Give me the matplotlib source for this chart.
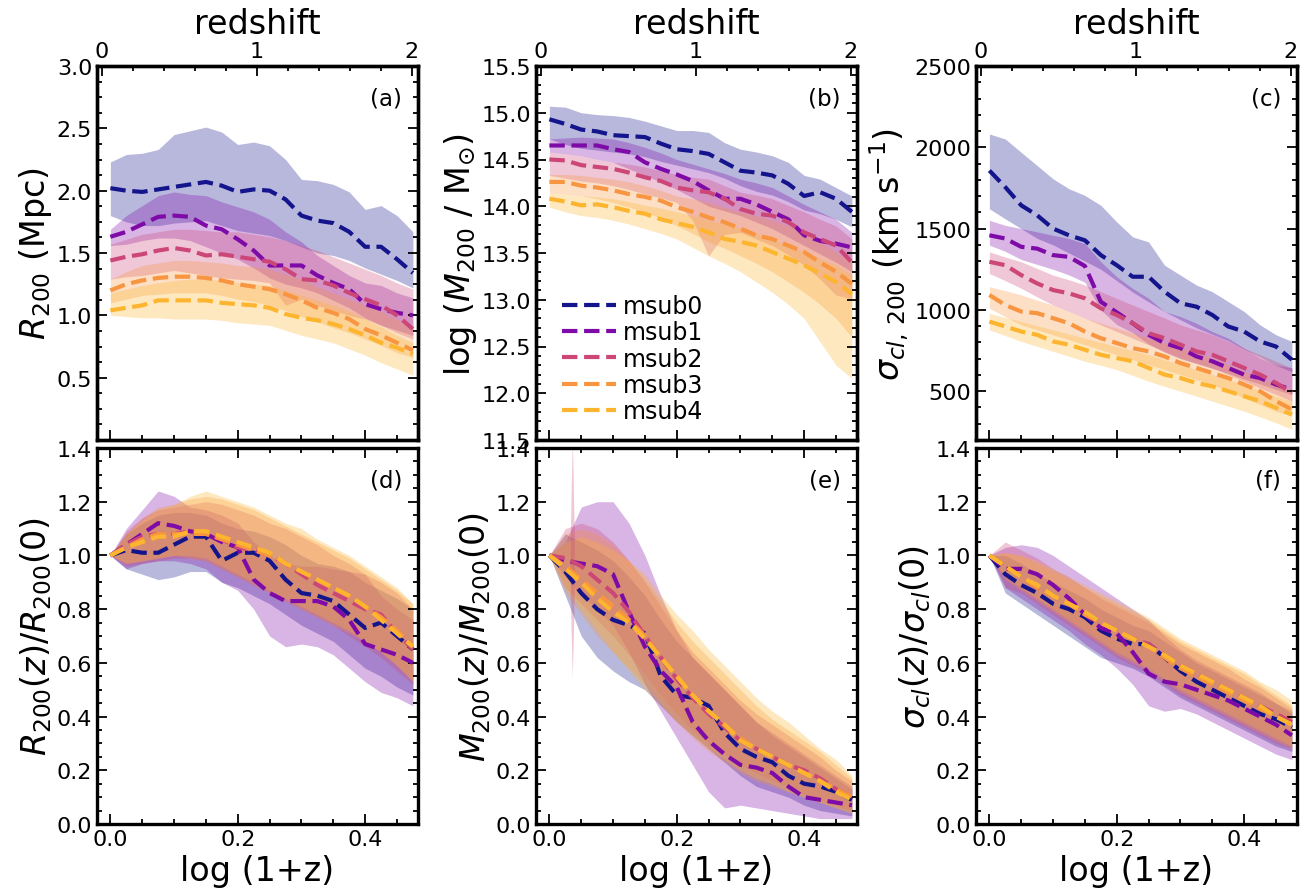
import matplotlib
matplotlib.use("Agg")
import matplotlib.pyplot as plt
from matplotlib.ticker import MultipleLocator, FixedLocator

# ---------------- data ----------------
logz1 = [0.0, 0.025, 0.05, 0.075, 0.1, 0.125, 0.15, 0.175, 0.2, 0.225,
         0.25, 0.275, 0.3, 0.325, 0.35, 0.375, 0.4, 0.425, 0.45, 0.475]
labels = ["msub0", "msub1", "msub2", "msub3", "msub4"]
colors = ["#14148c", "#7e0aa8", "#cc4778", "#f89540", "#fdb42f"]

# (a) R200 [Mpc]
R200_med = [
    [2.02, 2.00, 1.99, 2.01, 2.03, 2.05, 2.07, 2.04, 1.99, 2.01, 2.00, 1.93, 1.80, 1.76, 1.74, 1.67, 1.55, 1.55, 1.45, 1.34],
    [1.63, 1.67, 1.73, 1.79, 1.80, 1.79, 1.72, 1.69, 1.61, 1.52, 1.40, 1.40, 1.40, 1.32, 1.26, 1.21, 1.09, 1.05, 1.02, 1.00],
    [1.44, 1.47, 1.49, 1.52, 1.54, 1.52, 1.48, 1.49, 1.47, 1.45, 1.43, 1.37, 1.29, 1.28, 1.24, 1.18, 1.13, 1.08, 1.00, 0.89],
    [1.20, 1.25, 1.28, 1.30, 1.31, 1.31, 1.30, 1.28, 1.25, 1.23, 1.21, 1.17, 1.12, 1.06, 1.02, 0.97, 0.89, 0.84, 0.78, 0.72],
    [1.04, 1.06, 1.08, 1.12, 1.12, 1.12, 1.12, 1.10, 1.09, 1.08, 1.06, 1.01, 0.98, 0.96, 0.93, 0.89, 0.84, 0.78, 0.74, 0.69],
]
R200_hi = [
    [2.23, 2.29, 2.30, 2.33, 2.45, 2.48, 2.51, 2.47, 2.37, 2.39, 2.36, 2.25, 2.09, 2.08, 2.05, 1.99, 1.85, 1.88, 1.80, 1.67],
    [1.69, 1.80, 1.88, 1.96, 1.99, 1.97, 1.96, 1.91, 1.87, 1.83, 1.77, 1.67, 1.59, 1.48, 1.40, 1.32, 1.26, 1.24, 1.18, 1.14],
    [1.57, 1.61, 1.65, 1.67, 1.69, 1.69, 1.68, 1.67, 1.67, 1.65, 1.63, 1.60, 1.56, 1.52, 1.47, 1.42, 1.37, 1.32, 1.26, 1.21],
    [1.29, 1.35, 1.40, 1.42, 1.44, 1.44, 1.43, 1.42, 1.40, 1.39, 1.37, 1.33, 1.29, 1.23, 1.18, 1.13, 1.08, 1.03, 0.97, 0.89],
    [1.18, 1.21, 1.24, 1.26, 1.28, 1.29, 1.29, 1.28, 1.26, 1.25, 1.24, 1.20, 1.16, 1.12, 1.08, 1.03, 0.97, 0.91, 0.84, 0.78],
]
R200_lo = [
    [1.80, 1.75, 1.72, 1.72, 1.74, 1.75, 1.76, 1.72, 1.68, 1.66, 1.64, 1.60, 1.55, 1.50, 1.48, 1.44, 1.38, 1.33, 1.28, 1.22],
    [1.56, 1.57, 1.60, 1.62, 1.62, 1.60, 1.55, 1.50, 1.45, 1.38, 1.30, 1.25, 1.22, 1.18, 1.12, 1.06, 0.98, 0.92, 0.88, 0.84],
    [1.29, 1.31, 1.32, 1.34, 1.36, 1.34, 1.32, 1.30, 1.29, 1.28, 1.26, 1.08, 1.13, 1.08, 1.04, 1.00, 0.97, 0.92, 0.86, 0.81],
    [1.10, 1.13, 1.16, 1.17, 1.18, 1.18, 1.18, 1.16, 1.13, 1.11, 1.08, 1.04, 0.99, 0.95, 0.90, 0.86, 0.81, 0.76, 0.70, 0.66],
    [1.00, 0.99, 0.98, 0.98, 0.97, 0.97, 0.97, 0.96, 0.94, 0.93, 0.92, 0.88, 0.84, 0.81, 0.78, 0.73, 0.68, 0.62, 0.57, 0.52],
]

# (b) log M200
M200_med = [
    [14.93, 14.88, 14.82, 14.80, 14.76, 14.75, 14.74, 14.67, 14.61, 14.59, 14.56, 14.47, 14.38, 14.36, 14.33, 14.24, 14.11, 14.15, 14.08, 13.94],
    [14.65, 14.65, 14.65, 14.65, 14.61, 14.58, 14.47, 14.40, 14.34, 14.27, 14.17, 14.08, 14.08, 14.02, 13.94, 13.86, 13.69, 13.63, 13.60, 13.56],
    [14.50, 14.49, 14.44, 14.42, 14.40, 14.36, 14.31, 14.27, 14.20, 14.17, 14.15, 14.08, 13.97, 13.92, 13.90, 13.83, 13.72, 13.65, 13.58, 13.40],
    [14.26, 14.26, 14.22, 14.20, 14.17, 14.13, 14.10, 14.06, 13.99, 13.94, 13.88, 13.83, 13.76, 13.69, 13.65, 13.58, 13.51, 13.40, 13.30, 13.17],
    [14.08, 14.05, 14.01, 14.02, 13.99, 13.95, 13.92, 13.86, 13.82, 13.78, 13.72, 13.65, 13.62, 13.58, 13.51, 13.44, 13.37, 13.28, 13.19, 13.06],
]
M200_hi = [
    [15.07, 15.06, 15.00, 14.98, 14.97, 14.95, 14.91, 14.86, 14.81, 14.81, 14.79, 14.68, 14.61, 14.58, 14.54, 14.47, 14.33, 14.29, 14.20, 14.11],
    [14.72, 14.73, 14.74, 14.73, 14.72, 14.68, 14.63, 14.57, 14.50, 14.45, 14.40, 14.35, 14.29, 14.25, 14.20, 14.11, 14.02, 13.94, 13.86, 13.72],
    [14.58, 14.56, 14.54, 14.50, 14.47, 14.45, 14.42, 14.38, 14.34, 14.31, 14.29, 14.22, 14.15, 14.12, 14.08, 14.01, 13.94, 13.86, 13.79, 13.65],
    [14.34, 14.34, 14.33, 14.31, 14.29, 14.26, 14.22, 14.17, 14.11, 14.08, 14.04, 13.99, 13.94, 13.90, 13.85, 13.79, 13.72, 13.62, 13.51, 13.40],
    [14.15, 14.13, 14.11, 14.10, 14.08, 14.05, 14.01, 13.98, 13.94, 13.90, 13.85, 13.81, 13.76, 13.71, 13.65, 13.58, 13.51, 13.44, 13.37, 13.26],
]
M200_lo = [
    [14.72, 14.66, 14.62, 14.60, 14.58, 14.56, 14.53, 14.48, 14.44, 14.40, 14.36, 14.30, 14.22, 14.16, 14.12, 14.05, 13.96, 13.92, 13.86, 13.78],
    [14.58, 14.56, 14.54, 14.50, 14.47, 14.40, 14.33, 14.26, 14.18, 14.09, 14.00, 13.95, 13.90, 13.83, 13.76, 13.67, 13.58, 13.49, 13.40, 13.30],
    [14.33, 14.30, 14.27, 14.25, 14.22, 14.18, 14.13, 14.09, 14.04, 13.85, 13.47, 13.70, 13.72, 13.65, 13.58, 13.48, 13.37, 13.22, 13.05, 13.01],
    [14.15, 14.13, 14.11, 14.08, 14.04, 13.99, 13.94, 13.87, 13.79, 13.71, 13.62, 13.55, 13.47, 13.39, 13.30, 13.19, 13.08, 12.95, 12.80, 12.60],
    [13.99, 13.94, 13.90, 13.88, 13.85, 13.81, 13.76, 13.71, 13.65, 13.56, 13.47, 13.39, 13.30, 13.19, 13.08, 12.95, 12.80, 12.55, 12.30, 12.16],
]

# (c) sigma_cl,200 [km/s]
sig_med = [
    [1857, 1755, 1643, 1582, 1500, 1459, 1428, 1337, 1275, 1204, 1204, 1112, 1041, 1020, 969, 898, 867, 806, 775, 694],
    [1459, 1439, 1388, 1377, 1337, 1326, 1270, 1050, 985, 918, 847, 796, 765, 714, 684, 643, 602, 581, 541, 510],
    [1296, 1275, 1214, 1163, 1122, 1102, 1071, 1010, 969, 918, 857, 826, 786, 745, 724, 684, 643, 602, 551, 490],
    [1092, 1030, 990, 980, 949, 918, 867, 826, 796, 765, 745, 714, 673, 643, 612, 581, 541, 500, 439, 388],
    [928, 898, 867, 847, 806, 786, 755, 724, 704, 684, 643, 602, 581, 551, 530, 500, 469, 439, 398, 357],
]
sig_hi = [
    [2082, 2051, 1969, 1888, 1806, 1745, 1704, 1643, 1541, 1449, 1418, 1275, 1214, 1153, 1112, 1051, 990, 908, 847, 806],
    [1551, 1520, 1500, 1480, 1459, 1439, 1408, 1296, 1204, 1132, 1071, 990, 959, 918, 867, 826, 765, 704, 663, 643],
    [1357, 1325, 1296, 1255, 1214, 1185, 1153, 1112, 1071, 1030, 990, 950, 908, 878, 847, 806, 765, 725, 684, 643],
    [1143, 1118, 1092, 1060, 1030, 990, 949, 918, 888, 857, 826, 796, 765, 735, 704, 663, 622, 582, 541, 500],
    [979, 954, 928, 903, 877, 852, 826, 800, 775, 750, 724, 694, 663, 633, 602, 571, 541, 505, 469, 439],
]
sig_lo = [
    [1622, 1560, 1500, 1440, 1400, 1350, 1300, 1250, 1180, 1110, 1050, 990, 940, 890, 850, 810, 760, 710, 660, 620],
    [1398, 1360, 1310, 1280, 1250, 1215, 1170, 1000, 910, 860, 790, 740, 700, 670, 640, 610, 575, 545, 510, 480],
    [1224, 1180, 1133, 1080, 1030, 990, 949, 908, 867, 826, 786, 745, 704, 673, 643, 602, 561, 520, 480, 439],
    [1010, 959, 908, 878, 847, 817, 786, 755, 724, 694, 663, 633, 602, 571, 541, 500, 459, 418, 377, 347],
    [877, 842, 806, 776, 745, 715, 684, 659, 633, 597, 561, 530, 500, 470, 439, 408, 377, 342, 306, 265],
]

# (d) R200(z)/R200(0)
Rrat_med = [
    [1.00, 1.02, 1.01, 1.01, 1.04, 1.07, 1.07, 0.98, 1.01, 1.01, 0.98, 0.91, 0.86, 0.85, 0.83, 0.78, 0.73, 0.75, 0.70, 0.65],
    [1.00, 1.04, 1.08, 1.12, 1.11, 1.09, 1.08, 1.05, 1.03, 0.91, 0.86, 0.83, 0.83, 0.83, 0.81, 0.76, 0.67, 0.65, 0.63, 0.60],
    [1.00, 1.04, 1.07, 1.08, 1.08, 1.09, 1.08, 1.06, 1.03, 1.02, 1.00, 0.97, 0.93, 0.89, 0.86, 0.83, 0.80, 0.78, 0.71, 0.65],
    [1.00, 1.03, 1.06, 1.08, 1.08, 1.08, 1.08, 1.06, 1.04, 1.02, 1.00, 0.97, 0.94, 0.91, 0.88, 0.85, 0.81, 0.77, 0.72, 0.66],
    [1.00, 1.03, 1.05, 1.07, 1.07, 1.09, 1.09, 1.07, 1.05, 1.03, 1.01, 0.97, 0.94, 0.91, 0.88, 0.85, 0.81, 0.76, 0.71, 0.66],
]
Rrat_hi = [
    [1.00, 1.08, 1.12, 1.15, 1.16, 1.16, 1.15, 1.12, 1.10, 1.09, 1.07, 1.04, 1.00, 0.97, 0.96, 0.94, 0.90, 0.87, 0.84, 0.80],
    [1.00, 1.10, 1.17, 1.24, 1.22, 1.18, 1.17, 1.15, 1.12, 1.05, 1.00, 0.97, 0.96, 0.96, 0.95, 0.94, 0.93, 0.85, 0.80, 0.76],
    [1.00, 1.09, 1.14, 1.17, 1.18, 1.19, 1.20, 1.19, 1.17, 1.15, 1.12, 1.10, 1.07, 1.04, 1.00, 0.97, 0.93, 0.90, 0.86, 0.80],
    [1.00, 1.08, 1.14, 1.18, 1.19, 1.21, 1.22, 1.21, 1.19, 1.17, 1.14, 1.11, 1.08, 1.05, 1.02, 0.99, 0.95, 0.91, 0.87, 0.82],
    [1.00, 1.08, 1.13, 1.17, 1.19, 1.22, 1.24, 1.22, 1.20, 1.18, 1.15, 1.12, 1.10, 1.06, 1.03, 1.00, 0.96, 0.92, 0.88, 0.82],
]
Rrat_lo = [
    [1.00, 0.95, 0.93, 0.91, 0.92, 0.94, 0.94, 0.90, 0.88, 0.85, 0.82, 0.78, 0.74, 0.71, 0.68, 0.63, 0.58, 0.55, 0.51, 0.48],
    [1.00, 0.95, 0.97, 0.98, 0.98, 0.97, 0.95, 0.90, 0.87, 0.80, 0.70, 0.66, 0.67, 0.66, 0.63, 0.58, 0.53, 0.49, 0.47, 0.44],
    [1.00, 0.96, 0.97, 0.98, 0.99, 0.99, 0.98, 0.95, 0.92, 0.89, 0.86, 0.83, 0.80, 0.77, 0.74, 0.70, 0.66, 0.62, 0.57, 0.52],
    [1.00, 0.97, 0.98, 0.99, 1.00, 0.99, 0.98, 0.95, 0.92, 0.89, 0.86, 0.83, 0.80, 0.77, 0.74, 0.71, 0.68, 0.64, 0.59, 0.53],
    [1.00, 0.97, 0.98, 0.99, 1.00, 1.00, 0.99, 0.96, 0.93, 0.90, 0.87, 0.84, 0.81, 0.78, 0.75, 0.72, 0.68, 0.64, 0.59, 0.53],
]

# (e) M200(z)/M200(0)
Mrat_med = [
    [1.00, 0.94, 0.86, 0.80, 0.76, 0.74, 0.71, 0.55, 0.48, 0.47, 0.44, 0.34, 0.28, 0.25, 0.23, 0.18, 0.15, 0.14, 0.12, 0.09],
    [1.00, 0.98, 0.97, 0.96, 0.93, 0.79, 0.66, 0.57, 0.51, 0.38, 0.31, 0.26, 0.22, 0.21, 0.19, 0.14, 0.10, 0.09, 0.08, 0.07],
    [1.00, 0.99, 0.96, 0.91, 0.86, 0.79, 0.70, 0.62, 0.54, 0.47, 0.41, 0.36, 0.31, 0.28, 0.25, 0.22, 0.20, 0.17, 0.13, 0.10],
    [1.00, 0.96, 0.91, 0.86, 0.81, 0.76, 0.70, 0.62, 0.55, 0.48, 0.42, 0.37, 0.32, 0.28, 0.25, 0.22, 0.19, 0.16, 0.13, 0.10],
    [1.00, 0.95, 0.90, 0.84, 0.79, 0.75, 0.69, 0.62, 0.55, 0.48, 0.42, 0.37, 0.31, 0.28, 0.25, 0.22, 0.19, 0.16, 0.12, 0.09],
]
Mrat_hi = [
    [1.00, 1.08, 1.05, 1.02, 0.98, 0.92, 0.85, 0.76, 0.68, 0.62, 0.56, 0.50, 0.44, 0.38, 0.33, 0.29, 0.25, 0.21, 0.17, 0.13],
    [1.00, 1.05, 1.18, 1.20, 1.20, 1.12, 1.00, 0.85, 0.72, 0.62, 0.56, 0.50, 0.44, 0.38, 0.34, 0.30, 0.26, 0.22, 0.18, 0.14],
    [1.00, 1.10, 1.12, 1.10, 1.05, 0.98, 0.90, 0.81, 0.72, 0.64, 0.58, 0.52, 0.46, 0.41, 0.37, 0.33, 0.29, 0.25, 0.20, 0.16],
    [1.00, 1.08, 1.10, 1.08, 1.04, 0.98, 0.91, 0.83, 0.75, 0.68, 0.62, 0.56, 0.50, 0.44, 0.39, 0.35, 0.31, 0.27, 0.22, 0.17],
    [1.00, 1.05, 1.07, 1.05, 1.02, 0.98, 0.93, 0.85, 0.78, 0.72, 0.65, 0.59, 0.53, 0.47, 0.42, 0.38, 0.33, 0.28, 0.24, 0.18],
]
Mrat_lo = [
    [1.00, 0.85, 0.70, 0.62, 0.57, 0.53, 0.50, 0.44, 0.38, 0.33, 0.28, 0.23, 0.18, 0.14, 0.12, 0.10, 0.07, 0.05, 0.04, 0.03],
    [1.00, 0.92, 0.85, 0.80, 0.74, 0.64, 0.52, 0.42, 0.32, 0.22, 0.12, 0.06, 0.07, 0.06, 0.05, 0.04, 0.03, 0.02, 0.02, 0.02],
    [1.00, 0.88, 0.82, 0.76, 0.70, 0.63, 0.56, 0.48, 0.41, 0.35, 0.30, 0.26, 0.22, 0.19, 0.16, 0.14, 0.11, 0.09, 0.07, 0.05],
    [1.00, 0.86, 0.78, 0.70, 0.64, 0.58, 0.52, 0.45, 0.38, 0.32, 0.27, 0.23, 0.19, 0.16, 0.14, 0.12, 0.10, 0.08, 0.06, 0.04],
    [1.00, 0.88, 0.80, 0.72, 0.64, 0.57, 0.50, 0.44, 0.38, 0.33, 0.28, 0.24, 0.20, 0.17, 0.15, 0.12, 0.10, 0.08, 0.06, 0.04],
]
# narrow outlier spike of the msub2 band in panel (e)
Mrat_spike_x = [0.033, 0.036, 0.039]
Mrat_spike_top = [1.09, 1.45, 1.09]
Mrat_spike_bot = [0.84, 0.54, 0.84]

# (f) sigma(z)/sigma(0)
Srat_med = [
    [1.00, 0.93, 0.89, 0.86, 0.82, 0.80, 0.77, 0.72, 0.69, 0.67, 0.67, 0.62, 0.57, 0.53, 0.50, 0.47, 0.44, 0.41, 0.39, 0.36],
    [1.00, 0.95, 0.95, 0.93, 0.89, 0.84, 0.78, 0.73, 0.71, 0.64, 0.56, 0.53, 0.52, 0.50, 0.48, 0.46, 0.43, 0.40, 0.37, 0.33],
    [1.00, 0.96, 0.92, 0.88, 0.85, 0.82, 0.78, 0.75, 0.72, 0.69, 0.67, 0.63, 0.59, 0.56, 0.53, 0.50, 0.47, 0.44, 0.41, 0.38],
    [1.00, 0.96, 0.92, 0.88, 0.85, 0.82, 0.78, 0.75, 0.72, 0.69, 0.66, 0.62, 0.58, 0.55, 0.52, 0.49, 0.46, 0.43, 0.40, 0.37],
    [1.00, 0.96, 0.92, 0.89, 0.85, 0.82, 0.79, 0.75, 0.72, 0.69, 0.66, 0.63, 0.59, 0.56, 0.53, 0.50, 0.47, 0.44, 0.40, 0.37],
]
Srat_hi = [
    [1.00, 1.00, 0.97, 0.93, 0.90, 0.87, 0.84, 0.80, 0.77, 0.74, 0.72, 0.68, 0.64, 0.60, 0.57, 0.54, 0.51, 0.48, 0.45, 0.42],
    [1.00, 1.03, 1.04, 1.03, 1.00, 0.96, 0.92, 0.88, 0.84, 0.80, 0.76, 0.70, 0.65, 0.61, 0.58, 0.55, 0.52, 0.49, 0.45, 0.41],
    [1.00, 1.05, 1.02, 0.99, 0.95, 0.92, 0.88, 0.84, 0.81, 0.78, 0.75, 0.71, 0.67, 0.64, 0.61, 0.58, 0.54, 0.51, 0.47, 0.43],
    [1.00, 1.01, 1.00, 0.97, 0.94, 0.91, 0.88, 0.85, 0.82, 0.79, 0.76, 0.72, 0.68, 0.65, 0.62, 0.59, 0.56, 0.52, 0.48, 0.44],
    [1.00, 1.01, 1.00, 0.98, 0.95, 0.92, 0.89, 0.86, 0.83, 0.80, 0.77, 0.73, 0.69, 0.66, 0.63, 0.60, 0.57, 0.53, 0.50, 0.46],
]
Srat_lo = [
    [1.00, 0.86, 0.82, 0.78, 0.74, 0.70, 0.66, 0.62, 0.60, 0.58, 0.55, 0.51, 0.47, 0.44, 0.41, 0.38, 0.35, 0.32, 0.29, 0.27],
    [1.00, 0.88, 0.84, 0.80, 0.76, 0.72, 0.67, 0.63, 0.58, 0.52, 0.44, 0.42, 0.43, 0.41, 0.38, 0.35, 0.32, 0.29, 0.26, 0.24],
    [1.00, 0.88, 0.86, 0.82, 0.78, 0.74, 0.70, 0.66, 0.62, 0.59, 0.56, 0.52, 0.48, 0.45, 0.42, 0.39, 0.36, 0.33, 0.30, 0.28],
    [1.00, 0.91, 0.87, 0.83, 0.79, 0.75, 0.71, 0.67, 0.63, 0.60, 0.57, 0.53, 0.49, 0.46, 0.43, 0.40, 0.37, 0.34, 0.31, 0.28],
    [1.00, 0.92, 0.88, 0.84, 0.80, 0.76, 0.72, 0.68, 0.64, 0.61, 0.58, 0.54, 0.50, 0.47, 0.44, 0.41, 0.38, 0.35, 0.32, 0.29],
]

# ---------------- styling ----------------
plt.rcParams['font.family'] = ['DejaVu Sans']
plt.rcParams['mathtext.fontset'] = 'dejavusans'
TICK_FS = 16
LABEL_FS = 24
LETTER_FS = 16.5
LW_SPINE = 2.4

fig = plt.figure(figsize=(13.12, 8.95), dpi=100)

W = 1312.0
H = 895.0
col_left = [97, 536, 976]
col_w = 321
row_top = [67, 449]
row_h = [374, 376]

panels = [
    dict(med=R200_med, lo=R200_lo, hi=R200_hi, ylim=(0.0, 3.0), yticks=[0.5, 1.0, 1.5, 2.0, 2.5, 3.0],
         minor=0.125, fmt="{:.1f}", ylabel=r'$R_{200}$ (Mpc)', letter='(a)'),
    dict(med=M200_med, lo=M200_lo, hi=M200_hi, ylim=(11.5, 15.5),
         yticks=[11.5, 12.0, 12.5, 13.0, 13.5, 14.0, 14.5, 15.0, 15.5],
         minor=0.1, fmt="{:.1f}", ylabel=r'log ($M_{200}$ / M$_{\odot}$)', letter='(b)'),
    dict(med=sig_med, lo=sig_lo, hi=sig_hi, ylim=(200, 2500), yticks=[500, 1000, 1500, 2000, 2500],
         minor=100, fmt="{:.0f}", ylabel=r'$\sigma_{cl,\,200}$ (km s$^{-1}$)', letter='(c)'),
    dict(med=Rrat_med, lo=Rrat_lo, hi=Rrat_hi, ylim=(0.0, 1.4), yticks=[0.0, 0.2, 0.4, 0.6, 0.8, 1.0, 1.2, 1.4],
         minor=0.05, fmt="{:.1f}", ylabel=r'$R_{200}(z)/R_{200}(0)$', letter='(d)'),
    dict(med=Mrat_med, lo=Mrat_lo, hi=Mrat_hi, ylim=(0.0, 1.4), yticks=[0.0, 0.2, 0.4, 0.6, 0.8, 1.0, 1.2, 1.4],
         minor=0.05, fmt="{:.1f}", ylabel=r'$M_{200}(z)/M_{200}(0)$', letter='(e)'),
    dict(med=Srat_med, lo=Srat_lo, hi=Srat_hi, ylim=(0.0, 1.4), yticks=[0.0, 0.2, 0.4, 0.6, 0.8, 1.0, 1.2, 1.4],
         minor=0.05, fmt="{:.1f}", ylabel=r'$\sigma_{cl}(z)/\sigma_{cl}(0)$', letter='(f)'),
]


def style_ticks(ax, top=True, bottom=True):
    ax.tick_params(which='both', direction='in', right=True, top=top, bottom=bottom,
                   labelsize=TICK_FS, width=1.3)
    ax.tick_params(which='major', length=7)
    ax.tick_params(which='minor', length=3.6)
    for s in ax.spines.values():
        s.set_linewidth(LW_SPINE)


for i, p in enumerate(panels):
    r, c = divmod(i, 3)
    left = col_left[c] / W
    bottom = (H - row_top[r] - row_h[r]) / H
    ax = fig.add_axes([left, bottom, col_w / W, row_h[r] / H])

    for k in range(5):
        ax.fill_between(logz1, p['lo'][k], p['hi'][k], color=colors[k], alpha=0.3, lw=0)
    if i == 4:
        ax.fill_between(Mrat_spike_x, Mrat_spike_bot, Mrat_spike_top, color=colors[2], alpha=0.3, lw=0)
    for k in range(5):
        ax.plot(logz1, p['med'][k], ls='--', lw=3, color=colors[k], label=labels[k])

    ax.set_xlim(-0.021, 0.483)
    ax.set_ylim(*p['ylim'])
    ax.xaxis.set_major_locator(FixedLocator([0.0, 0.2, 0.4]))
    ax.xaxis.set_minor_locator(MultipleLocator(0.05))
    ax.yaxis.set_major_locator(FixedLocator(p['yticks']))
    ax.set_yticklabels([p['fmt'].format(v) for v in p['yticks']])
    ax.yaxis.set_minor_locator(MultipleLocator(p['minor']))
    ax.set_ylabel(p['ylabel'], fontsize=LABEL_FS, labelpad=2)
    ax.text(0.95, 0.915, p['letter'], transform=ax.transAxes, ha='right', va='center',
            fontsize=LETTER_FS)

    if r == 0:
        style_ticks(ax, top=False)
        ax.set_xticklabels([])
        ax2 = ax.twiny()
        ax2.set_xlim(-0.032, 2.04)
        ax2.xaxis.set_major_locator(FixedLocator([0, 1, 2]))
        ax2.xaxis.set_minor_locator(MultipleLocator(0.2))
        style_ticks(ax2)
        ax2.tick_params(which='both', right=False, left=False, bottom=False, top=True)
        ax2.set_xlabel('redshift', fontsize=LABEL_FS, labelpad=6)
    else:
        style_ticks(ax)
        ax.set_xticklabels(['0.0', '0.2', '0.4'])
        ax.set_xlabel('log (1+z)', fontsize=LABEL_FS, labelpad=4)

    if i == 1:
        ax.legend(loc='lower left', frameon=False, fontsize=17, handlelength=2.3,
                  handletextpad=0.28, labelspacing=0.1, borderaxespad=0.3,
                  bbox_to_anchor=(0.03, 0.0))

fig.savefig('out.png', dpi=100)
